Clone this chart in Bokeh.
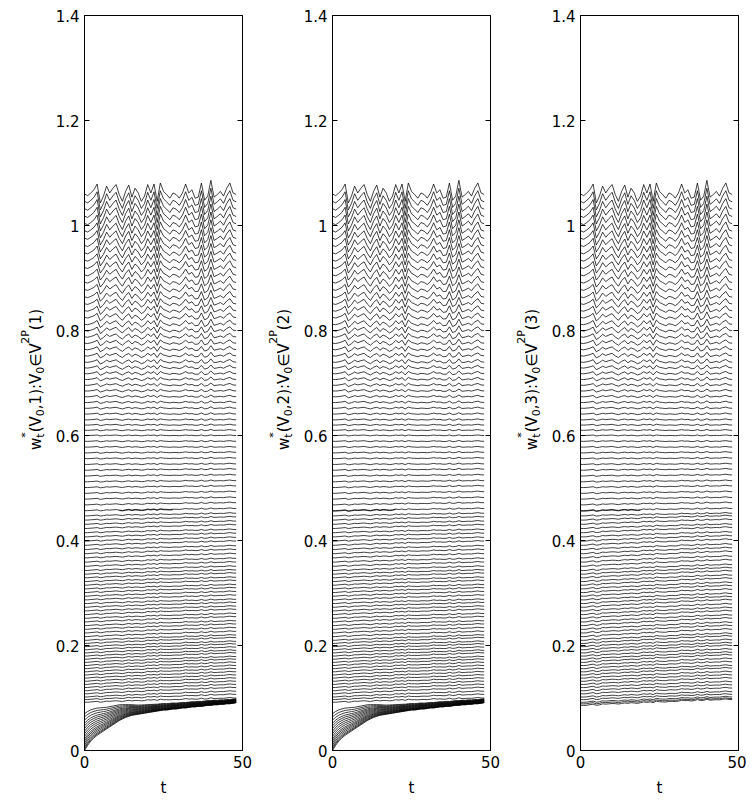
import numpy as np
from bokeh.plotting import figure
from bokeh.models import Range1d, FixedTicker, LinearAxis, CustomJSTickFormatter
from bokeh.core.properties import value
from bokeh.layouts import row
from bokeh.embed import file_html
from bokeh.resources import INLINE

# ---------------- data ----------------
t_steps = list(range(49))

# zig-zag deviation of the top trajectory from its starting level
zig_top = [0.000, -0.003, 0.002, 0.008, 0.019, -0.017, -0.004, 0.015, 0.002, 0.011,
           0.018, -0.001, -0.014, 0.005, 0.017, -0.006, 0.011, 0.002, -0.014, -0.004,
           0.018, 0.002, 0.019, -0.014, 0.021, 0.005, -0.001, -0.008, 0.002, -0.001,
           -0.008, 0.002, 0.019, 0.002, 0.008, -0.008, -0.006, 0.021, -0.012, -0.004,
           0.026, -0.006, -0.001, 0.005, -0.004, 0.011, 0.021, 0.002, -0.001]

# oscillating trajectories (start level, relative zig-zag size)
upper_levels = [1.060, 1.046, 1.032, 1.018, 1.004, 0.990, 0.976, 0.962, 0.948, 0.934,
                0.920, 0.906, 0.892, 0.878, 0.864, 0.851, 0.838, 0.825, 0.812, 0.800,
                0.788, 0.776, 0.764, 0.752, 0.740, 0.729, 0.718, 0.707, 0.696, 0.685,
                0.674, 0.663, 0.652, 0.641, 0.630, 0.620, 0.610, 0.600]
upper_amp = [1.00, 0.96, 0.92, 0.88, 0.84, 0.80, 0.76, 0.72, 0.68, 0.64,
             0.61, 0.58, 0.55, 0.52, 0.49, 0.46, 0.43, 0.40, 0.37, 0.34,
             0.31, 0.29, 0.27, 0.25, 0.23, 0.21, 0.19, 0.17, 0.15, 0.13,
             0.12, 0.11, 0.10, 0.09, 0.08, 0.07, 0.06, 0.05]

# slowly drifting trajectories (start level, total rise over t)
band_levels = [0.589, 0.578, 0.567, 0.556, 0.545, 0.534, 0.523, 0.512, 0.501, 0.490,
               0.479, 0.468, 0.457, 0.447,
               0.439, 0.431, 0.423, 0.415, 0.407, 0.399, 0.391, 0.383, 0.375, 0.367,
               0.359, 0.351, 0.343, 0.336, 0.329, 0.322, 0.315, 0.308, 0.301, 0.294,
               0.287, 0.280, 0.273, 0.266, 0.259, 0.252, 0.245, 0.238, 0.231, 0.224,
               0.217, 0.210, 0.204, 0.198,
               0.192, 0.186, 0.180, 0.174, 0.168, 0.162, 0.156, 0.150, 0.144, 0.138,
               0.132, 0.126, 0.120, 0.114, 0.108, 0.102, 0.097, 0.092]
band_drift_12 = [0.000, 0.000, 0.001, 0.001, 0.001, 0.002, 0.002, 0.002, 0.003, 0.003,
                 0.003, 0.004, 0.004, 0.005,
                 0.006, 0.006, 0.007, 0.006, 0.007, 0.007, 0.008, 0.007, 0.008, 0.008,
                 0.007, 0.008, 0.008, 0.008, 0.009, 0.008, 0.009, 0.008, 0.009, 0.009,
                 0.009, 0.008, 0.009, 0.009, 0.010, 0.009, 0.010, 0.009, 0.010, 0.010,
                 0.010, 0.010, 0.011, 0.010,
                 0.011, 0.011, 0.011, 0.012, 0.011, 0.012, 0.012, 0.012, 0.012, 0.012,
                 0.012, 0.012, 0.012, 0.012, 0.012, 0.011, 0.010, 0.008]
band_drift_3 = [0.000, 0.000, 0.001, 0.001, 0.001, 0.002, 0.002, 0.002, 0.003, 0.003,
                0.003, 0.004, 0.004, 0.005,
                0.008, 0.009, 0.008, 0.010, 0.009, 0.010, 0.011, 0.010, 0.011, 0.012,
                0.011, 0.012, 0.011, 0.012, 0.013, 0.012, 0.013, 0.012, 0.013, 0.013,
                0.012, 0.013, 0.014, 0.013, 0.013, 0.014, 0.013, 0.014, 0.013, 0.014,
                0.014, 0.013, 0.014, 0.013,
                0.013, 0.014, 0.013, 0.013, 0.014, 0.013, 0.013, 0.012, 0.013, 0.012,
                0.012, 0.012, 0.011, 0.011, 0.011, 0.010, 0.010, 0.010]
extra_levels_3 = [0.089, 0.086]
extra_drift_3 = [0.010, 0.011]

drift_profile_12 = [0.00, 0.01, 0.05, 0.06, 0.07, 0.12, 0.13, 0.14, 0.19, 0.20,
                    0.21, 0.26, 0.27, 0.28, 0.33, 0.34, 0.35, 0.40, 0.41, 0.42,
                    0.47, 0.48, 0.49, 0.54, 0.55, 0.56, 0.60, 0.61, 0.62, 0.66,
                    0.67, 0.68, 0.72, 0.73, 0.74, 0.78, 0.79, 0.80, 0.84, 0.85,
                    0.86, 0.89, 0.90, 0.91, 0.94, 0.95, 0.96, 0.99, 1.00]
drift_profile_3 = [0.00, 0.00, 0.00, 0.08, 0.10, 0.10, 0.10, 0.18, 0.20, 0.20,
                   0.22, 0.30, 0.30, 0.30, 0.32, 0.38, 0.40, 0.40, 0.42, 0.48,
                   0.50, 0.50, 0.50, 0.55, 0.60, 0.60, 0.60, 0.62, 0.68, 0.70,
                   0.70, 0.72, 0.78, 0.80, 0.80, 0.80, 0.85, 0.88, 0.90, 0.90,
                   0.90, 0.93, 0.95, 0.95, 0.97, 1.00, 1.00, 1.00, 1.00]

# converging bundle near zero (panels 1 and 2)
bundle_starts = [0.070, 0.064, 0.058, 0.052, 0.047, 0.042, 0.037, 0.032, 0.027, 0.022,
                 0.018, 0.014, 0.010, 0.006, 0.003, 0.000]
bundle_envelope = [0.000, 0.010, 0.018, 0.024, 0.029, 0.033, 0.037, 0.041, 0.045, 0.049,
                   0.053, 0.057, 0.060, 0.063, 0.065, 0.067, 0.068, 0.069, 0.070, 0.071,
                   0.072, 0.073, 0.074, 0.075, 0.076, 0.077, 0.077, 0.078, 0.079, 0.079,
                   0.080, 0.081, 0.081, 0.082, 0.083, 0.083, 0.084, 0.084, 0.085, 0.086,
                   0.086, 0.087, 0.087, 0.088, 0.088, 0.089, 0.089, 0.090, 0.091]
bundle_decay = [1.00, 0.92, 0.85, 0.79, 0.74, 0.69, 0.64, 0.59, 0.55, 0.51,
                0.47, 0.43, 0.39, 0.35, 0.32, 0.29, 0.27, 0.25, 0.24, 0.23,
                0.22, 0.21, 0.20, 0.19, 0.185, 0.18, 0.175, 0.17, 0.165, 0.16,
                0.155, 0.15, 0.148, 0.145, 0.142, 0.14, 0.137, 0.135, 0.132, 0.13,
                0.127, 0.125, 0.122, 0.12, 0.117, 0.115, 0.112, 0.11, 0.108]

bold_level_index = 12          # the doubled (bold) trajectory in band_levels
bold_spans = [(11, 28), (0, 20), (0, 19)]

x_ticks = [0, 50]
y_ticks = [0, 0.2, 0.4, 0.6, 0.8, 1.0, 1.2, 1.4]
panel_ids = [1, 2, 3]

# ---------------- drawing ----------------
FONT = "DejaVu Sans"
T = np.array(t_steps, dtype=float)
Z = np.array(zig_top)
TOP = 15          # frame top in pixels
FH = 735          # frame height
FW = 158          # frame width
LEFT_B = 32       # border between label strip and frame


def build_lines(k):
    xs, ys = [], []
    for lev, a in zip(upper_levels, upper_amp):
        xs.append(T)
        ys.append(lev + a * Z)
    if k < 3:
        prof, drifts = np.array(drift_profile_12), band_drift_12
        levels = band_levels
    else:
        prof, drifts = np.array(drift_profile_3), band_drift_3 + extra_drift_3
        levels = band_levels + extra_levels_3
    for lev, d in zip(levels, drifts):
        xs.append(T)
        ys.append(lev + d * prof + 0.06 * Z)
    i = bold_level_index
    a, b = bold_spans[k - 1]
    yb = band_levels[i] + drifts[i] * prof + 0.06 * Z
    xs.append(T[a:b + 1])
    ys.append(yb[a:b + 1] - 0.0009)
    if k < 3:
        env = np.array(bundle_envelope)
        dec = np.array(bundle_decay)
        for s in bundle_starts:
            xs.append(T)
            ys.append(env + s * dec)
    return xs, ys


W = {"w": .818, "*": .5, "t": .392, "(": .39, ")": .39, "V": .684, "0": .636, "1": .636,
     "2": .636, "3": .636, ",": .318, ":": .337, "\u2208": .838, "P": .603}


def tw(s, fs):
    return sum(W[c] for c in s) * fs


def make_label_strip(k, width):
    """A frame-only strip that holds the rotated y-axis title with sub/superscripts."""
    q = figure(frame_width=width, frame_height=FH, min_border_left=0, min_border_right=0,
               min_border_top=TOP, min_border_bottom=0,
               x_range=Range1d(0, width), y_range=Range1d(0, FH),
               x_axis_location=None, y_axis_location=None,
               output_backend="svg", toolbar_location=None)
    q.grid.visible = False
    q.outline_line_color = None
    groups = [[("w", "m")], [("*", "sup"), ("t", "sub")], [("(V", "m")], [("0", "sub")],
              [(",%d):V" % k, "m")], [("0", "sub")], [("\u2208V", "m")], [("2P", "sup")],
              [("(%d)" % k, "m")]]
    fs = {"m": 15, "sup": 11, "sub": 11}
    # baseline distance to the left of the plot frame (pixels)
    base = {"m": 48.5, "sup": 59, "sub": 44.5}
    total = sum(max(tw(s, fs[r]) for s, r in g) for g in groups)
    centre = 379 - TOP              # pixels below frame top
    along = 0.0
    pieces = {r: {"x": [], "y": [], "text": []} for r in fs}
    for g in groups:
        for s, r in g:
            pieces[r]["x"].append(width + LEFT_B - base[r])
            pieces[r]["y"].append(FH - centre - total / 2.0 + along)
            pieces[r]["text"].append(s)
        along += max(tw(s, fs[r]) for s, r in g)
    for r, d in pieces.items():
        q.text(x=d["x"], y=d["y"], text=d["text"], angle=np.pi / 2,
               text_font=value(FONT), text_font_size=value("%dpx" % fs[r]),
               text_align="left", text_baseline="alphabetic", text_color="black")
    return q


def make_panel(k, right):
    p = figure(frame_width=FW, frame_height=FH, min_border_left=LEFT_B, min_border_right=right,
               min_border_top=TOP, min_border_bottom=10,
               x_range=Range1d(0, 50), y_range=Range1d(0, 1.4),
               output_backend="svg", toolbar_location=None)
    p.grid.visible = False
    p.outline_line_color = "black"
    p.outline_line_width = 1
    p.outline_line_alpha = 1
    xs, ys = build_lines(k)
    p.multi_line([list(x) for x in xs], [list(y) for y in ys], line_color="black", line_width=0.75)

    fmt = CustomJSTickFormatter(code="return String(Math.round(tick*10)/10);")
    for ax, tk in ((p.xaxis[0], x_ticks), (p.yaxis[0], y_ticks)):
        ax.ticker = FixedTicker(ticks=tk)
        ax.formatter = fmt
        ax.major_tick_in = 5
        ax.major_tick_out = 0
        ax.minor_tick_line_color = None
        ax.axis_line_color = "black"
        ax.major_tick_line_color = "black"
        ax.major_label_text_font = FONT
        ax.major_label_text_font_size = "15px"
        ax.major_label_text_color = "black"
        ax.major_label_standoff = 5
    p.xaxis.axis_label = "t"
    p.xaxis.axis_label_text_font = FONT
    p.xaxis.axis_label_text_font_size = "15px"
    p.xaxis.axis_label_text_font_style = "normal"
    p.xaxis.axis_label_text_color = "black"
    p.xaxis.axis_label_standoff = 8

    ra = LinearAxis(ticker=FixedTicker(ticks=y_ticks),
                    formatter=CustomJSTickFormatter(code="return '';"),
                    major_tick_in=5, major_tick_out=0, minor_tick_line_color=None,
                    axis_line_color="black", major_label_standoff=0)
    p.add_layout(ra, "right")
    return p


children = []
for k, lw, rb in zip(panel_ids, [52, 48, 48], [10, 10, 8]):
    children.append(make_label_strip(k, lw))
    children.append(make_panel(k, rb))
layout = row(*children)

open("out.html", "w").write(file_html(layout, INLINE))
